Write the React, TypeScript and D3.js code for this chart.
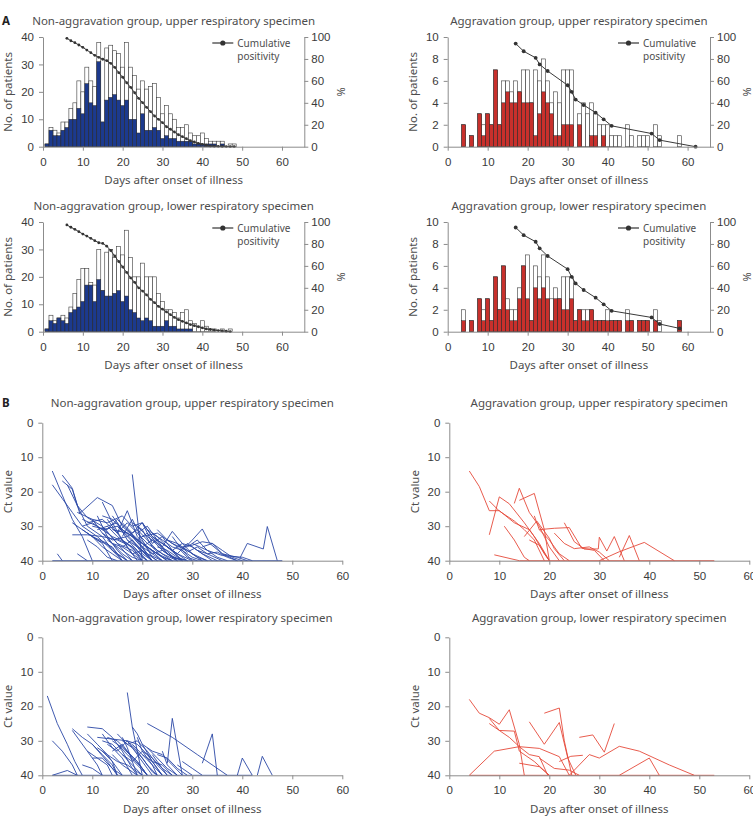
import React, { useRef, useEffect } from "react";
import * as d3 from "d3";

// Daily patient counts, index 0 = day 1 after onset
const nonAggUpperTotal = [1, 7, 6, 5, 9, 9, 14, 16, 24, 20, 29, 24, 22, 38, 9, 36, 37, 35, 34, 29, 38, 29, 26, 21, 24, 21, 22, 23, 18, 12, 15, 12, 10, 7, 7, 8, 5, 4, 4, 5, 3, 2, 2, 2, 2, 0, 1, 1];
const nonAggUpperPositive = [1, 6, 4, 4, 6, 7, 10, 10, 14, 12, 23, 16, 15, 31, 9, 17, 18, 19, 17, 15, 17, 10, 10, 5, 12, 6, 6, 7, 6, 3, 4, 3, 3, 2, 2, 2, 2, 1, 1, 1, 1, 1, 1, 0, 1, 0, 0, 0];

const aggUpperTotal = [0, 0, 0, 2, 0, 1, 0, 3, 2, 3, 2, 7, 2, 6, 6, 5, 6, 5, 7, 7, 4, 7, 6, 8, 6, 4, 5, 4, 7, 7, 7, 0, 3, 4, 3, 4, 3, 2, 2, 2, 1, 1, 1, 0, 2, 1, 0, 1, 1, 1, 0, 2, 1, 0, 0, 0, 0, 1];
const aggUpperPositive = [0, 0, 0, 2, 0, 1, 0, 3, 1, 3, 2, 7, 2, 4, 5, 4, 4, 5, 4, 4, 4, 1, 3, 5, 4, 3, 1, 1, 2, 2, 2, 0, 2, 0, 0, 1, 1, 0, 1, 0, 0, 0, 0, 0, 0, 0, 0, 0, 0, 0, 0, 0, 0, 0, 0, 0, 0, 0];

const nonAggLowerTotal = [1, 6, 4, 5, 6, 5, 9, 14, 19, 23, 23, 18, 17, 30, 15, 29, 30, 27, 31, 28, 37, 27, 20, 20, 25, 20, 20, 20, 14, 11, 8, 8, 7, 5, 7, 8, 4, 3, 2, 4, 2, 1, 1, 0, 1, 0, 1];
const nonAggLowerPositive = [1, 4, 3, 5, 4, 3, 7, 8, 9, 11, 17, 17, 11, 19, 15, 13, 13, 14, 15, 11, 13, 8, 7, 5, 4, 5, 4, 2, 2, 2, 4, 2, 2, 1, 1, 1, 1, 0, 0, 0, 0, 0, 0, 0, 0, 0, 0];

const aggLowerTotal = [0, 0, 0, 2, 0, 1, 0, 3, 2, 3, 1, 5, 2, 6, 3, 2, 2, 4, 6, 7, 1, 6, 5, 7, 5, 3, 4, 3, 5, 5, 5, 1, 2, 2, 2, 2, 1, 1, 1, 2, 1, 1, 1, 0, 2, 1, 0, 1, 1, 1, 0, 2, 1, 0, 0, 0, 0, 1];
const aggLowerPositive = [0, 0, 0, 1, 0, 1, 0, 3, 1, 3, 1, 5, 2, 6, 2, 1, 1, 3, 6, 3, 1, 4, 3, 4, 3, 1, 3, 3, 2, 2, 3, 1, 2, 1, 1, 2, 1, 1, 1, 1, 1, 1, 1, 0, 1, 1, 0, 1, 1, 1, 0, 1, 0, 0, 0, 0, 0, 1];

// Cumulative positivity (%)
const nonAggUpperCumDays = [6, 7, 8, 9, 10, 11, 12, 13, 14, 15, 16, 17, 18, 19, 20, 21, 22, 23, 24, 25, 26, 27, 28, 29, 30, 31, 32, 33, 34, 35, 36, 37, 38, 39, 40, 41, 42, 43, 44, 45, 46, 47, 48];
const nonAggUpperCum = [98.8, 96.6, 94.8, 92.7, 90.6, 88.1, 85.7, 83.3, 81.5, 79.7, 78.4, 76, 72.4, 67.5, 63.3, 58.3, 54.1, 49.2, 44.1, 40.1, 35.9, 31.9, 28, 25, 21.9, 18.2, 15.9, 13.4, 10.9, 9.1, 7.3, 5.5, 4.3, 3.1, 2.2, 1.3, 0.6, 0.4, 0.3, 0.2, 0.1, 0.05, 0];

const aggUpperCumDays = [17, 19, 22, 23, 25, 30, 31, 32, 34, 37, 39, 41, 51, 53, 62];
const aggUpperCum = [94, 87, 81, 75, 69, 56, 50, 43, 38, 31, 25, 19, 12, 6, 0];

const nonAggLowerCumDays = [6, 7, 8, 9, 10, 11, 12, 13, 14, 15, 16, 17, 18, 19, 20, 21, 22, 23, 24, 25, 26, 27, 28, 29, 30, 31, 32, 33, 34, 35, 36, 37, 38, 39, 40, 41, 42, 43, 44, 45, 46, 47];
const nonAggLowerCum = [97.3, 95.2, 93.3, 91.2, 89, 87.2, 85.1, 83, 81.1, 80.5, 78, 74, 69, 64, 59, 54, 49, 45, 40, 37, 33.5, 29.5, 26.5, 23, 20.5, 18, 15.5, 13, 11, 9.5, 8, 6.5, 5.5, 4.5, 3.5, 2.5, 2, 1.5, 1, 0.7, 0.4, 0];

const aggLowerCumDays = [17, 19, 22, 23, 25, 30, 31, 32, 34, 37, 39, 41, 51, 53, 58];
const aggLowerCum = [95, 88, 82, 76, 69, 57, 50, 44, 38, 31, 25, 19, 13, 7, 3];

// Ct value courses per patient: [day, Ct]
type Trace = [number, number][];

const nonAggUpperCt: Trace[] = [
  [[2, 14], [4, 21], [6, 28], [8, 33], [10, 40]],
  [[2, 18], [4, 22], [6, 26], [8, 30], [11, 33], [14, 37], [16, 40]],
  [[4, 15.2], [6, 19], [7.5, 26.3], [11, 21.7], [14, 24], [16, 30], [19, 34], [22, 40]],
  [[4, 16.9], [6, 19.3], [7, 24], [9, 27.5], [12, 30], [15, 35], [18, 40]],
  [[5, 18], [7, 24], [9, 30], [12, 33], [14, 37], [17, 40]],
  [[18, 15], [20, 40]],
  [[3, 38], [4, 40]],
  [[39.5, 39.3], [41, 35], [44.2, 36.6], [45, 30.1], [47, 40]],
  [[28, 37], [30, 34], [32, 30.8], [33.5, 35], [36, 38], [39, 40]],
  [[7, 26], [10, 28], [13, 29], [16, 27], [18, 30], [20, 29], [22, 33], [25, 36], [28, 40]],
  [[8, 28], [11, 30], [14, 33], [17, 35], [19, 38], [21, 40]],
  [[6, 29], [9, 32], [12, 35], [14, 40]],
  [[10, 30], [13, 31], [15, 28], [17, 31], [20, 35], [23, 38], [26, 40]],
  [[12, 23], [14, 29], [16, 34], [18, 38], [20, 40]],
  [[13, 28], [15, 32], [17, 25.5], [19, 33], [21, 36], [24, 40]],
  [[9, 32], [11, 34], [14, 36], [16, 40]],
  [[15, 30], [17, 33], [19, 31], [21, 34], [23, 37], [26, 40]],
  [[11, 27], [13, 33], [15, 37], [17, 40]],
  [[16, 29], [18, 32], [20, 29], [22, 33], [25, 36], [27, 38], [30, 40]],
  [[14, 27], [16, 31], [19, 34], [22, 37], [25, 40]],
  [[20, 29], [22, 35], [24, 33], [26, 37], [28, 40]],
  [[22, 33], [24, 36], [26, 31.5], [28, 35], [30, 38], [33, 40]],
  [[19, 32], [21, 30], [23, 34], [25, 38], [27, 40]],
  [[24, 35], [26, 37], [28, 35], [30, 36], [32, 38], [35, 40]],
  [[25, 36], [27, 38], [29, 35], [31, 37], [34, 40]],
  [[28, 36], [30, 35.5], [32, 34.5], [34, 35], [36, 38], [39, 39], [41, 40]],
  [[30, 35], [33, 37], [36, 38.5], [40, 39], [42, 40]],
  [[17, 34], [19, 36], [21, 38], [23, 40]],
  [[21, 36], [23, 38], [25, 40]],
  [[10, 33], [12, 36], [14, 38], [16, 40]],
  [[7, 38], [9, 40]],
  [[2, 40], [48, 40]],
  [[12, 30], [15, 35], [18, 37], [20, 40]],
  [[8, 30], [10, 29], [12, 31], [15, 30], [18, 33], [21, 38], [24, 40]],
  [[23, 31], [25, 34], [27, 36], [29, 39], [31, 40]],
  [[26, 33], [28, 37], [30, 39], [32, 40]],
  [[13, 34], [16, 37], [18, 39], [20, 40]],
  [[18, 29], [20, 31], [22, 36], [24, 39], [26, 40]],
  [[6, 32.5], [9, 32.5], [12, 33], [15, 34], [18, 36], [21, 40]],
  [[14, 31], [17, 32], [20, 35], [22, 38], [24, 40]],
  [[29, 36], [31, 34], [33, 37], [35, 39], [37, 40]],
  [[32, 36], [34, 35], [36, 37], [38, 39], [40, 40]],
  [[16, 33], [18, 28], [20, 34], [22, 39], [23, 40]],
  [[9, 29], [12, 28], [15, 32], [17, 36], [19, 40]],
  [[20, 33], [23, 32], [26, 35], [29, 37], [32, 40]],
  [[8, 31], [10, 33], [13, 35], [15, 38], [17, 40]],
  [[11, 31], [13, 30], [15, 33], [18, 36], [20, 40]],
  [[12, 32], [14, 34], [17, 33], [19, 36], [22, 40]],
  [[15, 32], [17, 29], [19, 32], [21, 35], [24, 38], [27, 40]],
  [[17, 31], [19, 34], [21, 32], [23, 35], [25, 38], [28, 40]],
  [[18, 33], [20, 36], [22, 34], [24, 37], [26, 39], [29, 40]],
  [[19, 30], [21, 33], [24, 36], [27, 40]],
  [[21, 31], [23, 33], [25, 36], [27, 38], [29, 40]],
  [[13, 30], [15, 29], [17, 34], [19, 37], [21, 40]],
  [[10, 28], [12, 32], [14, 35], [16, 38], [18, 40]],
  [[14, 35], [16, 36], [18, 34], [20, 37], [22, 40]],
  [[22, 32], [24, 34], [26, 36], [28, 37], [30, 40]],
  [[25, 34], [27, 35], [29, 37], [31, 39], [33, 40]],
  [[27, 35], [29, 37.5], [31, 36], [33, 38], [36, 40]],
  [[16, 36], [18, 38], [20, 37], [22, 40]],
  [[20, 36], [22, 38], [24, 37], [26, 39], [28, 40]],
  [[9, 34], [11, 36], [13, 39], [15, 40]],
  [[23, 36], [25, 37], [27, 39], [29, 40]],
  [[31, 37], [33, 38], [35, 37.5], [37, 39], [39, 40]],
  [[12, 27], [14, 28], [16, 31], [18, 34], [20, 38], [22, 40]],
];

const aggUpperCt: Trace[] = [
  [[4, 14], [6, 18.5], [8, 25.5], [10, 25.5], [13, 29], [16, 31], [18, 35], [20, 40]],
  [[8, 32.5], [10, 21.5], [12, 23.5], [15, 29], [17, 33], [19, 38], [20, 40]],
  [[8, 22.7], [10, 25.6], [13, 28.5], [15, 31], [17, 34], [19, 40]],
  [[11, 30], [13, 34], [15, 39], [16, 40]],
  [[13, 23.4], [14, 19], [16, 26], [18, 30], [20, 36], [22, 40]],
  [[14, 22.5], [17, 20.5], [19, 31], [20, 40]],
  [[17, 27], [18, 31], [20, 34], [22, 38], [24, 40]],
  [[15, 33], [17.5, 28.5], [20, 33.5], [21, 36.5], [23, 40]],
  [[18, 31], [21, 30.6], [24, 30.4], [26.5, 36.4], [29, 37], [31, 40]],
  [[23, 29], [25, 34.5], [27, 36.6], [29.8, 36.6], [30, 33.2], [31.5, 37.2], [33, 33], [35, 40]],
  [[34, 39], [36, 32.7], [38, 40]],
  [[30, 40], [34, 37.4], [39, 34.7], [45, 40]],
  [[9, 38.3], [14, 40]],
  [[14, 40], [53, 40]],
  [[21, 32], [23, 35], [25, 36.5], [28, 36], [30, 37.5], [32, 40]],
  [[16, 34], [18, 35.5], [20, 40]],
];

const nonAggLowerCt: Trace[] = [
  [[1, 17], [3, 25], [5, 31], [6.5, 36], [8, 40]],
  [[2, 30], [4, 33], [6, 37], [7, 40]],
  [[2, 40], [5, 38.6], [7, 40]],
  [[6, 26.5], [8, 29], [10, 31], [13, 36], [15, 40]],
  [[6, 27], [9, 33], [11, 37], [12, 40]],
  [[9, 26], [12, 26.5], [14, 29], [16, 33], [18, 38], [19, 40]],
  [[9, 28], [11, 31], [13, 34], [15, 38], [16, 40]],
  [[10, 31], [12, 34], [14, 37], [15, 40]],
  [[11, 29], [14, 29.5], [17, 30], [19, 33], [21, 37], [23, 40]],
  [[12, 28], [14, 32], [16, 35], [18, 40]],
  [[17, 16], [18, 26], [19, 33], [20, 40]],
  [[18, 26], [19, 28], [20, 31], [22, 36], [24, 40]],
  [[21, 25], [26, 29], [31, 34], [37, 40]],
  [[25, 36.5], [26, 23.5], [28, 40]],
  [[32, 36.5], [34, 28], [35, 40]],
  [[39, 40], [40, 35], [42, 40]],
  [[43, 40], [44, 34.5], [46, 40]],
  [[13, 31], [15, 33], [17, 30], [19, 34], [21, 38], [22, 40]],
  [[14, 33], [16, 31], [18, 35], [20, 38], [21, 40]],
  [[12, 33], [14, 36], [15, 40]],
  [[15, 28], [17, 31], [19, 30], [21, 33], [23, 37], [25, 40]],
  [[16, 34], [18, 36], [20, 33], [22, 37], [24, 40]],
  [[19, 29], [20, 33], [22, 35], [24, 38], [26, 40]],
  [[20, 31], [22, 33], [24, 34], [26, 37], [28, 40]],
  [[22, 34], [23, 36], [25, 40]],
  [[24, 33], [25, 37], [27, 40]],
  [[27, 37], [28, 38], [30, 40]],
  [[8, 37], [10, 38], [12, 40]],
  [[10, 35], [12, 35], [14, 38], [16, 40]],
  [[2, 40], [42, 40]],
  [[11, 32], [13, 34], [15, 36], [17, 37], [20, 40]],
  [[16, 29], [17, 32], [18, 36], [19, 40]],
  [[14, 30], [16, 32], [19, 36], [21, 40]],
  [[28, 36], [30, 38], [32, 40]],
  [[23, 34], [25, 35], [27, 38], [29, 40]],
  [[13, 29], [15, 30], [17, 33], [19, 36], [21, 40]],
  [[15, 31], [17, 34], [19, 37], [21, 40]],
  [[17, 30], [19, 31], [21, 34], [23, 38], [24, 40]],
  [[12, 30], [14, 31], [16, 34], [18, 37], [20, 40]],
  [[18, 31], [20, 34], [22, 37], [23, 40]],
  [[20, 34], [22, 36], [24, 37], [26, 40]],
  [[9, 33], [11, 35], [13, 37], [14, 40]],
  [[16, 30], [18, 32], [20, 35], [22, 39], [23, 40]],
  [[21, 32], [23, 35], [25, 38], [27, 40]],
  [[14, 34], [16, 37], [18, 39], [19, 40]],
];

const aggLowerCt: Trace[] = [
  [[4, 18], [6, 22], [8, 23.3], [10, 25.2], [12, 21], [14, 31], [15, 40]],
  [[8, 23.5], [10, 27], [13, 27.2], [14, 33], [17, 36], [20, 40]],
  [[8, 25], [10, 27], [12, 29], [14, 31.7], [16, 34], [18, 34.6], [19.7, 40]],
  [[4, 40], [9, 33], [14, 31.7], [18, 32.2], [22, 34.6], [24, 40]],
  [[16, 24.5], [19, 31], [22, 24.7], [23.7, 35], [25.3, 40]],
  [[19, 22], [22, 20.5], [23, 30], [24.5, 40]],
  [[26, 29], [28.7, 28.3], [31, 33.3], [33, 25]],
  [[14, 36.5], [18, 37.5], [20, 40]],
  [[24, 40], [28, 34], [30, 35], [34, 31.6], [38, 33], [44, 37], [49, 40]],
  [[34, 40], [40, 35], [42, 40]],
  [[22, 36], [24.3, 34.5], [26.7, 34.2]],
  [[18, 35], [21, 38], [24, 38.5], [26, 40]],
  [[4, 40], [53, 40]],
];

const dayTicks = [0, 10, 20, 30, 40, 50, 60];
const pctTicks = [0, 20, 40, 60, 80, 100];
const ctTicks = [0, 10, 20, 30, 40];

const TITLE_FONT = "'Noto Sans', 'Open Sans', sans-serif";
const TICK_FONT = "'Liberation Sans', Arial, sans-serif";
const AXIS_GREY = "#8c8c8c";
const TEXT_GREY = "#4d4d4d";

type Sel = d3.Selection<any, any, any, any>;

function styleAxis(sel: Sel) {
  sel.attr("font-family", TICK_FONT).attr("font-size", 11.5);
  sel.select(".domain").attr("stroke", AXIS_GREY);
  sel.selectAll(".tick line").attr("stroke", AXIS_GREY);
  sel.selectAll(".tick text").attr("fill", "#3a3a3a");
}

interface HistConfig {
  left: number;
  right: number;
  top: number;
  bottom: number;
  yMax: number;
  yTicks: number[];
  total: number[];
  positive: number[];
  fill: string;
  cumDays: number[];
  cumValues: number[];
  title: string;
  dotR: number;
}

function drawHistogram(root: Sel, c: HistConfig) {
  const x = d3.scaleLinear().domain([0, 65.6]).range([c.left, c.right]);
  const y = d3.scaleLinear().domain([0, c.yMax]).range([c.bottom, c.top]);
  const yPct = d3.scaleLinear().domain([0, 100]).range([c.bottom, c.top]);
  const bw = x(1) - x(0);
  const g = root.append("g");

  const totals = c.total.map((v, i) => ({ day: i + 1, v })).filter((d) => d.v > 0);
  const positives = c.positive.map((v, i) => ({ day: i + 1, v })).filter((d) => d.v > 0);

  g.append("g")
    .selectAll("rect")
    .data(totals)
    .join("rect")
    .attr("x", (d) => x(d.day) - bw / 2)
    .attr("width", bw)
    .attr("y", (d) => y(d.v))
    .attr("height", (d) => y(0) - y(d.v))
    .attr("fill", "#ffffff")
    .attr("stroke", "#3b3b3b")
    .attr("stroke-width", 0.6);

  g.append("g")
    .selectAll("rect")
    .data(positives)
    .join("rect")
    .attr("x", (d) => x(d.day) - bw / 2)
    .attr("width", bw)
    .attr("y", (d) => y(d.v))
    .attr("height", (d) => y(0) - y(d.v))
    .attr("fill", c.fill)
    .attr("stroke", "#2a2a2a")
    .attr("stroke-width", 0.5);

  // cumulative positivity
  const pts: [number, number][] = c.cumDays.map((d, i) => [d, c.cumValues[i]]);
  const line = d3
    .line<[number, number]>()
    .x((d) => x(d[0]))
    .y((d) => yPct(d[1]));
  g.append("path").datum(pts).attr("d", line).attr("fill", "none").attr("stroke", "#3a3a3a").attr("stroke-width", 1);
  g.append("g")
    .selectAll("circle")
    .data(pts)
    .join("circle")
    .attr("cx", (d) => x(d[0]))
    .attr("cy", (d) => yPct(d[1]))
    .attr("r", c.dotR)
    .attr("fill", "#333");

  // axes
  const ax = g.append("g").attr("transform", `translate(0,${c.bottom})`)
    .call(d3.axisBottom(x).tickValues(dayTicks).tickSize(4).tickSizeOuter(0).tickPadding(7));
  styleAxis(ax);
  const ayl = g.append("g").attr("transform", `translate(${c.left},0)`)
    .call(d3.axisLeft(y).tickValues(c.yTicks).tickSize(4).tickSizeOuter(0).tickPadding(5));
  styleAxis(ayl);
  const ayr = g.append("g").attr("transform", `translate(${c.right},0)`)
    .call(d3.axisRight(yPct).tickValues(pctTicks).tickSize(4).tickSizeOuter(0).tickPadding(3));
  styleAxis(ayr);

  // legend
  const lx = c.right - 92;
  const ly = c.top + 6;
  g.append("line").attr("x1", lx).attr("x2", lx + 21).attr("y1", ly).attr("y2", ly).attr("stroke", "#333").attr("stroke-width", 1.2);
  g.append("circle").attr("cx", lx + 10.5).attr("cy", ly).attr("r", 2.6).attr("fill", "#333");
  const lt = g.append("text").attr("font-family", TITLE_FONT).attr("font-size", 10).attr("fill", TEXT_GREY);
  lt.append("tspan").attr("x", c.right - 67).attr("y", ly + 3.5).text("Cumulative");
  lt.append("tspan").attr("x", c.right - 67).attr("y", ly + 17).text("positivity");

  // titles
  const cx = (c.left + c.right) / 2;
  g.append("text").attr("x", cx).attr("y", c.top - 12).attr("text-anchor", "middle")
    .attr("font-family", TITLE_FONT).attr("font-size", 11.5).attr("fill", TEXT_GREY).text(c.title);
  g.append("text").attr("x", cx).attr("y", c.bottom + 37.5).attr("text-anchor", "middle")
    .attr("font-family", TITLE_FONT).attr("font-size", 11.5).attr("fill", TEXT_GREY).text("Days after onset of illness");
  g.append("text")
    .attr("transform", `translate(${c.left - 35},${(c.top + c.bottom) / 2}) rotate(-90)`)
    .attr("text-anchor", "middle").attr("dy", "0.35em")
    .attr("font-family", TITLE_FONT).attr("font-size", 11.5).attr("fill", TEXT_GREY).text("No. of patients");
  g.append("text")
    .attr("transform", `translate(${c.right + 37},${(c.top + c.bottom) / 2}) rotate(-90)`)
    .attr("text-anchor", "middle").attr("dy", "0.35em")
    .attr("font-family", TITLE_FONT).attr("font-size", 11).attr("fill", TEXT_GREY).text("%");
}

interface CtConfig {
  left: number;
  top: number;
  traces: Trace[];
  color: string;
  title: string;
}

function drawCtPanel(root: Sel, c: CtConfig) {
  const x = d3.scaleLinear().domain([0, 60]).range([c.left, c.left + 300]);
  const y = d3.scaleLinear().domain([0, 40]).range([c.top, c.top + 138]);
  const g = root.append("g");
  const line = d3
    .line<[number, number]>()
    .x((d) => x(d[0]))
    .y((d) => y(d[1]));

  g.append("g")
    .selectAll("path")
    .data(c.traces)
    .join("path")
    .attr("d", (d) => line(d))
    .attr("fill", "none")
    .attr("stroke", c.color)
    .attr("stroke-width", 0.9)
    .attr("stroke-linejoin", "round");

  const ax = g.append("g").attr("transform", `translate(0,${y(40)})`)
    .call(d3.axisBottom(x).tickValues(dayTicks).tickSize(4).tickSizeOuter(0).tickPadding(7));
  styleAxis(ax);
  const ay = g.append("g").attr("transform", `translate(${c.left},0)`)
    .call(d3.axisLeft(y).tickValues(ctTicks).tickSize(4).tickSizeOuter(0).tickPadding(5));
  styleAxis(ay);

  const cx = c.left + 150;
  g.append("text").attr("x", cx).attr("y", c.top - 15.5).attr("text-anchor", "middle")
    .attr("font-family", TITLE_FONT).attr("font-size", 11.5).attr("fill", TEXT_GREY).text(c.title);
  g.append("text").attr("x", cx).attr("y", c.top + 175.5).attr("text-anchor", "middle")
    .attr("font-family", TITLE_FONT).attr("font-size", 11.5).attr("fill", TEXT_GREY).text("Days after onset of illness");
  g.append("text")
    .attr("transform", `translate(${c.left - 34.5},${c.top + 69}) rotate(-90)`)
    .attr("text-anchor", "middle").attr("dy", "0.35em")
    .attr("font-family", TITLE_FONT).attr("font-size", 11.5).attr("fill", TEXT_GREY).text("Ct value");
}

const App = () => {
  const ref = useRef<SVGSVGElement>(null);

  useEffect(() => {
    const svg = d3.select(ref.current);
    svg.selectAll("*").remove();

    const blue = "#1c3a8e";
    const red = "#c8302c";

    drawHistogram(svg, {
      left: 43, right: 304.3, top: 37, bottom: 146.7, yMax: 40, yTicks: [0, 10, 20, 30, 40],
      total: nonAggUpperTotal, positive: nonAggUpperPositive, fill: blue,
      cumDays: nonAggUpperCumDays, cumValues: nonAggUpperCum,
      title: "Non-aggravation group, upper respiratory specimen", dotR: 1.4,
    });
    drawHistogram(svg, {
      left: 447.7, right: 710, top: 37, bottom: 146.7, yMax: 10, yTicks: [0, 2, 4, 6, 8, 10],
      total: aggUpperTotal, positive: aggUpperPositive, fill: red,
      cumDays: aggUpperCumDays, cumValues: aggUpperCum,
      title: "Aggravation group, upper respiratory specimen", dotR: 1.9,
    });
    drawHistogram(svg, {
      left: 43, right: 304.3, top: 222, bottom: 331.7, yMax: 40, yTicks: [0, 10, 20, 30, 40],
      total: nonAggLowerTotal, positive: nonAggLowerPositive, fill: blue,
      cumDays: nonAggLowerCumDays, cumValues: nonAggLowerCum,
      title: "Non-aggravation group, lower respiratory specimen", dotR: 1.4,
    });
    drawHistogram(svg, {
      left: 447.7, right: 710, top: 222, bottom: 331.7, yMax: 10, yTicks: [0, 2, 4, 6, 8, 10],
      total: aggLowerTotal, positive: aggLowerPositive, fill: red,
      cumDays: aggLowerCumDays, cumValues: aggLowerCum,
      title: "Aggravation group, lower respiratory specimen", dotR: 1.9,
    });

    const lineBlue = "#2a47a6";
    const lineRed = "#e5493a";
    drawCtPanel(svg, { left: 42.3, top: 422.7, traces: nonAggUpperCt, color: lineBlue, title: "Non-aggravation group, upper respiratory specimen" });
    drawCtPanel(svg, { left: 449.3, top: 422.7, traces: aggUpperCt, color: lineRed, title: "Aggravation group, upper respiratory specimen" });
    drawCtPanel(svg, { left: 42.3, top: 637.3, traces: nonAggLowerCt, color: lineBlue, title: "Non-aggravation group, lower respiratory specimen" });
    drawCtPanel(svg, { left: 449.3, top: 637.3, traces: aggLowerCt, color: lineRed, title: "Aggravation group, lower respiratory specimen" });

    // panel letters
    svg.append("text").attr("x", 2).attr("y", 25).attr("font-family", TITLE_FONT)
      .attr("font-size", 11.5).attr("font-weight", "bold").attr("fill", "#222").text("A");
    svg.append("text").attr("x", 2).attr("y", 407).attr("font-family", TITLE_FONT)
      .attr("font-size", 11.5).attr("font-weight", "bold").attr("fill", "#222").text("B");
  }, []);

  return (
    <svg
      ref={ref}
      width={753}
      height={822}
      style={{ position: "absolute", left: 0, top: 0, background: "#fff" }}
    ></svg>
  );
};

export default App;
